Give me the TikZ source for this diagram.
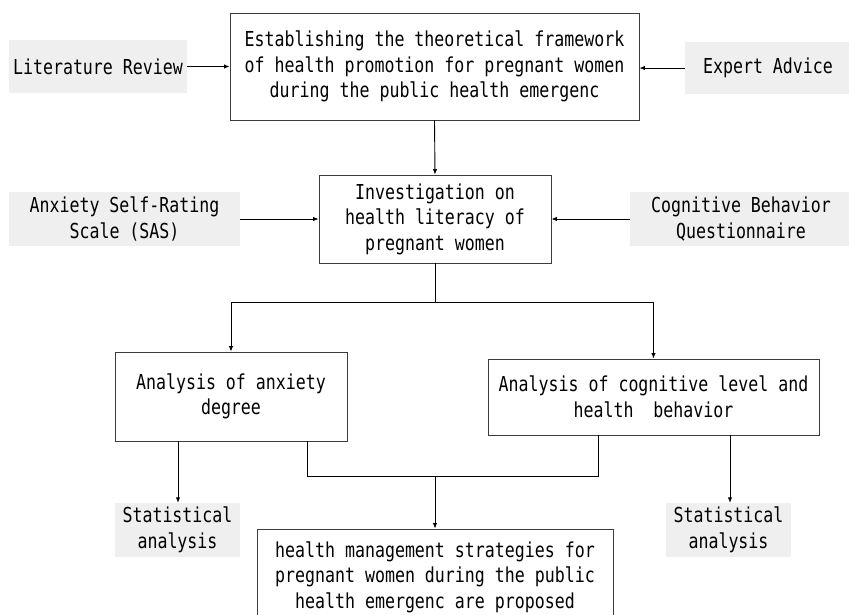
\documentclass[tikz,border=0pt]{standalone}
\usepackage{fontspec}
\usetikzlibrary{arrows.meta}
\newfontfamily\dmono[FakeStretch=0.806]{DejaVu Sans Mono}
\definecolor{panelgray}{RGB}{239,239,239}
\definecolor{edgegray}{RGB}{60,60,60}
\begin{document}
\begin{tikzpicture}[x=1pt,y=-1pt,
  every node/.style={font=\dmono\fontsize{20.6}{25.5}\selectfont, align=center, inner sep=0pt, text=black},
  box/.style={draw=edgegray, line width=0.9pt, fill=white, rectangle},
  src/.style={fill=panelgray, rectangle},
  arr/.style={draw=black, line width=0.9pt, -{Latex[length=5.5pt,width=4.5pt]}},
  ln/.style={draw=black, line width=0.9pt}]
\clip (0,0) rectangle (849,614);
\fill[white] (0,0) rectangle (849,614);
% nodes
\node[box, minimum width=409, minimum height=107] (top) at (434.5,66.5)
  {Establishing the theoretical framework\\of health promotion for pregnant women\\during the public health emergenc};
\node[src, minimum width=178, minimum height=53] (lit) at (98,66.5) {Literature Review};
\node[src, minimum width=166, minimum height=52] (exp) at (768,68) {Expert Advice};
\node[box, minimum width=232, minimum height=88] (inv) at (435,219)
  {Investigation on\\health literacy of\\pregnant women};
\node[src, minimum width=231, minimum height=54] (sas) at (124.5,219) {Anxiety Self-Rating\\Scale (SAS)};
\node[src, minimum width=222, minimum height=54] (cbq) at (741,219) {Cognitive Behavior\\Questionnaire};
\node[box, minimum width=232, minimum height=89] (anx) at (231,396.5) {Analysis of anxiety\\degree};
\node[box, minimum width=331, minimum height=76] (cog) at (653.5,397) {Analysis of cognitive level and\\health\ \ behavior};
\node[src, minimum width=125, minimum height=54] (statl) at (177.5,530) {Statistical\\analysis};
\node[src, minimum width=125, minimum height=54] (statr) at (728.5,530) {Statistical\\analysis};
\node[box, minimum width=356, minimum height=96] (fin) at (435,577)
  {health management strategies for\\pregnant women during the public\\health emergenc are proposed};
% coordinates
\coordinate (split) at (435,302.5);
\coordinate (m1) at (307,476);
\coordinate (m2) at (598,476);
\coordinate (mm) at (435,476);
\coordinate (sl) at (178,0);
\coordinate (sr) at (730,0);
% connectors
\draw[arr] (lit.east) -- (lit.east -| top.west);
\draw[arr] (exp.west) -- (exp.west -| top.east);
\draw[arr] (top.south) -- (inv.north);
\draw[arr] (sas.east) -- (inv.west);
\draw[arr] (cbq.west) -- (inv.east);
\draw[ln] (inv.south) -- (split);
\draw[arr] (split) -| (anx.north);
\draw[arr] (split) -| (cog.north);
\draw[arr] (anx.south -| sl) -- (statl.north -| sl);
\draw[arr] (cog.south -| sr) -- (statr.north -| sr);
\draw[ln] (anx.south -| m1) -- (m1) -- (m2) -- (cog.south -| m2);
\draw[arr] (mm) -- (fin.north);
\end{tikzpicture}
\end{document}
